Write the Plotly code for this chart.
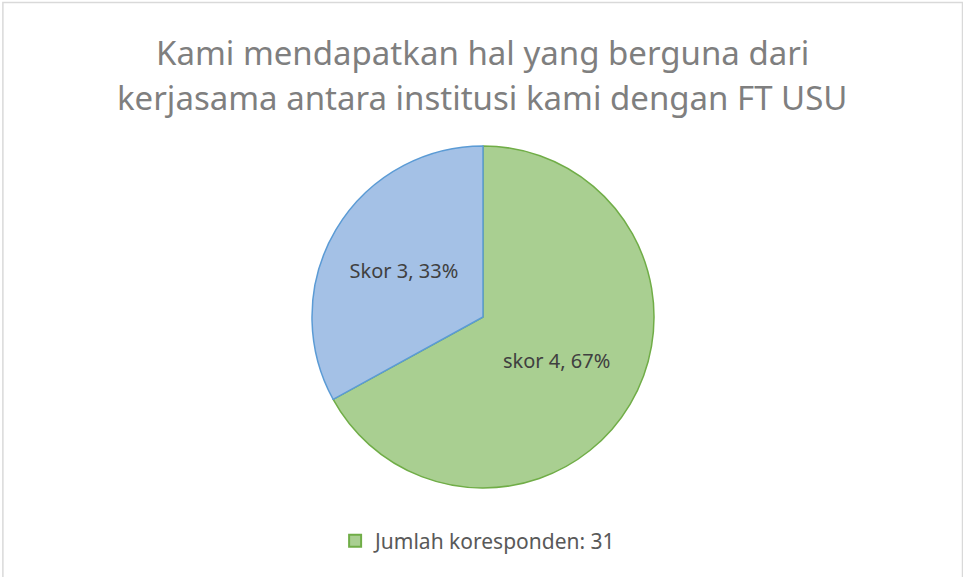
import plotly.graph_objects as go

title_lines = ["Kami mendapatkan hal yang berguna dari",
               "kerjasama antara institusi kami dengan FT USU"]
categories = ["skor 4", "Skor 3"]
values = [67, 33]
fill_colors = ["#a9cf91", "#a4c1e6"]
edge_colors = ["#70ad47", "#5b9bd5"]
legend_label = "Jumlah koresponden: 31"

W, H = 963, 577
cx, cy, r = 483, 317, 171

fig = go.Figure()
fig.add_trace(go.Pie(
    labels=categories, values=values, sort=False, direction="clockwise",
    rotation=0,
    marker=dict(colors=fill_colors, line=dict(color=edge_colors, width=1.5)),
    textinfo="text", text=[f"{c}, {v}%" for c, v in zip(categories, values)],
    textposition="inside", insidetextorientation="horizontal",
    textfont=dict(family="Noto Sans", size=20, color="#404040"),
    showlegend=False, hoverinfo="label+percent",
    domain=dict(x=[(cx - r) / W, (cx + r) / W], y=[1 - (cy + r) / H, 1 - (cy - r) / H]),
))
fig.add_trace(go.Scatter(
    x=[None], y=[None], mode="markers", name=legend_label,
    marker=dict(symbol="square", size=14, color="#a9cf91", line=dict(color="#70ad47", width=1.5)),
))

fig.update_layout(
    width=W, height=H, margin=dict(l=0, r=0, t=0, b=0),
    paper_bgcolor="white", plot_bgcolor="white",
    xaxis=dict(visible=False), yaxis=dict(visible=False),
    legend=dict(orientation="h", x=0.497, xanchor="center", y=1 - 541 / H, yanchor="middle",
                font=dict(family="Noto Sans", size=21, color="#595959"),
                itemsizing="constant", itemwidth=30, bgcolor="rgba(0,0,0,0)"),
    annotations=[
        dict(text=title_lines[0], x=cx / W, y=1 - 52 / H, xref="paper", yref="paper",
             showarrow=False, xanchor="center", yanchor="middle",
             font=dict(family="Noto Sans", size=33, color="#7f7f7f")),
        dict(text=title_lines[1], x=cx / W, y=1 - 97 / H, xref="paper", yref="paper",
             showarrow=False, xanchor="center", yanchor="middle",
             font=dict(family="Noto Sans", size=33, color="#7f7f7f")),
    ],
    shapes=[dict(type="rect", xref="paper", yref="paper", x0=0.003, x1=0.9995, y0=-0.01, y1=1 - 2.5 / H,
                 line=dict(color="#d9d9d9", width=1.5))],
)

fig.write_html("out.html", config={"displayModeBar": False},
               post_script="document.body.style.margin='0';")
